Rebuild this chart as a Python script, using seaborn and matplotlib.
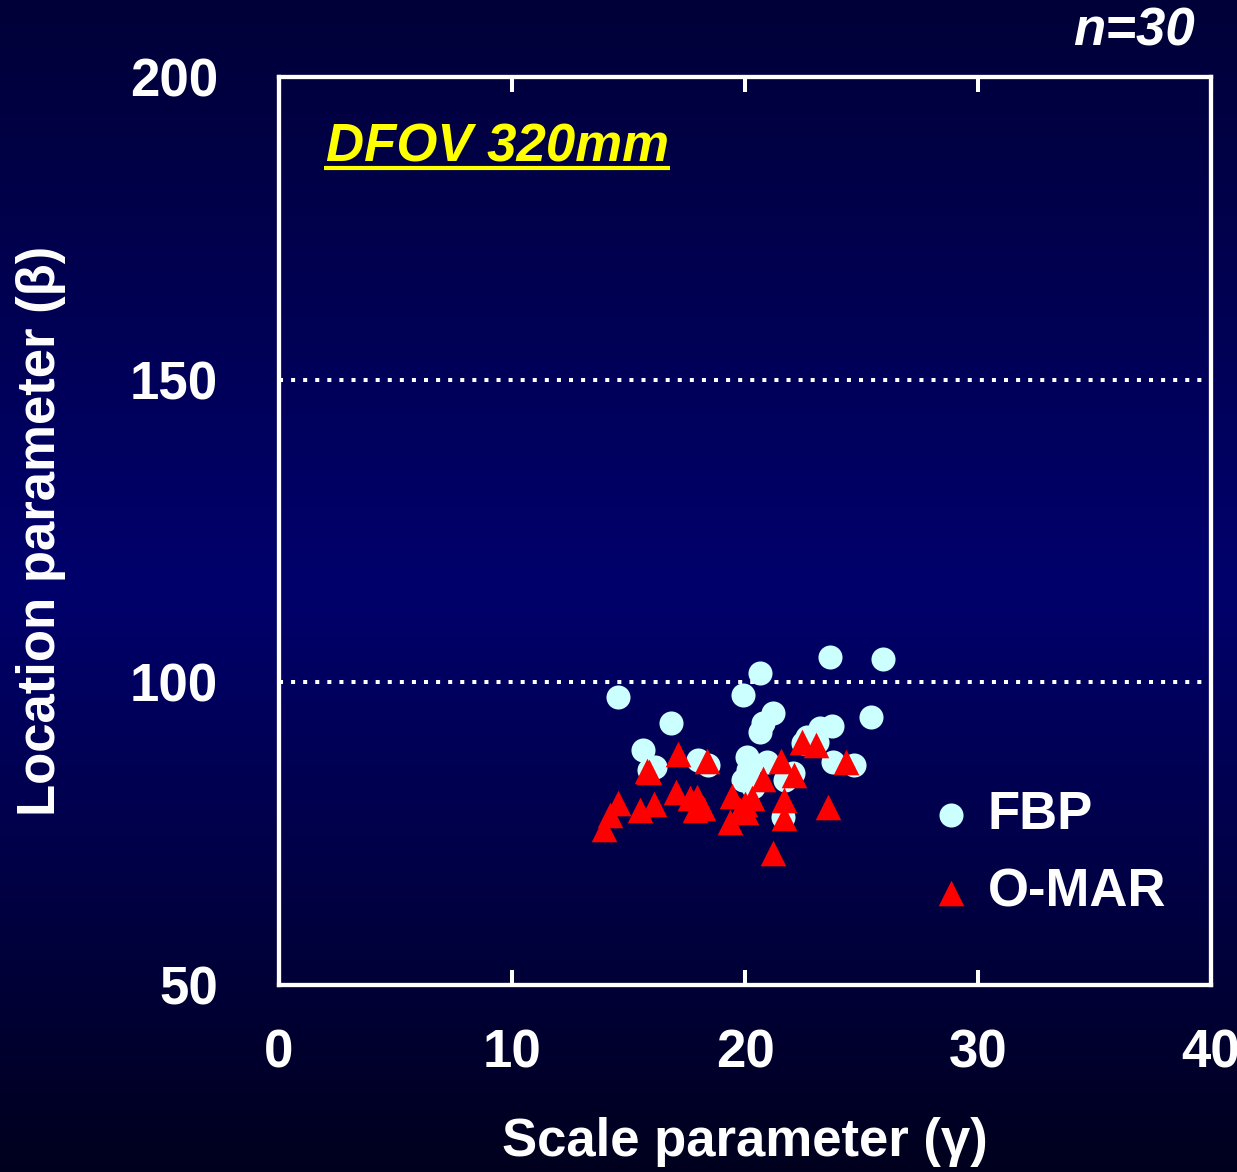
import numpy as np
import pandas as pd
import matplotlib
matplotlib.use("Agg")
import matplotlib.pyplot as plt
import seaborn as sns
from matplotlib.colors import LinearSegmentedColormap

# ---- data ----
fbp_scale = [14.55, 20.64, 23.65, 25.92, 19.91, 21.2, 20.77, 20.64, 16.82, 25.4,
             23.73, 23.2, 22.66, 23.1, 15.62, 16.14, 17.98, 18.41, 20.09, 20.94,
             19.91, 20.13, 22.06, 23.78, 24.68, 21.63, 22.49, 20.34, 21.7, 15.9]
fbp_loc = [97.6, 101.5, 104.2, 103.8, 97.9, 94.9, 93.3, 91.8, 93.3, 94.3,
           92.8, 92.5, 91.0, 90.1, 88.8, 86.0, 87.2, 86.3, 87.7, 86.8,
           83.9, 85.5, 85.0, 86.8, 86.3, 77.7, 90.0, 82.7, 83.9, 85.5]
omar_scale = [17.12, 15.79, 15.88, 18.37, 22.45, 23.05, 21.55, 24.33, 22.1, 20.77,
              17.04, 17.94, 17.64, 18.2, 17.85, 19.44, 20.3, 20.0, 20.04, 21.67,
              21.67, 19.36, 23.56, 21.2, 14.55, 14.21, 13.95, 15.49, 16.09, 19.8]
omar_loc = [88.2, 85.3, 85.2, 87.0, 90.1, 89.6, 87.0, 86.8, 84.7, 84.0,
            81.9, 81.0, 80.9, 79.2, 78.9, 81.2, 80.9, 79.9, 78.6, 80.6,
            77.6, 76.9, 79.4, 71.8, 80.1, 78.1, 75.8, 78.9, 79.9, 78.9]
series_names = ["FBP", "O-MAR"]
x_ticks = [0, 10, 20, 30, 40]
y_ticks = [50, 100, 150, 200]
grid_levels = [100, 150]

fbp_df = pd.DataFrame({"scale": fbp_scale, "loc": fbp_loc})
omar_df = pd.DataFrame({"scale": omar_scale, "loc": omar_loc})

sns.set_theme(style="white")
plt.rcParams["font.family"] = ["Liberation Sans", "DejaVu Sans"]
plt.rcParams["font.weight"] = "bold"

W, H = 1237, 1172
fig = plt.figure(figsize=(W / 100, H / 100), dpi=100)

# background gradient
bg = fig.add_axes([0, 0, 1, 1], zorder=-10)
cmap = LinearSegmentedColormap.from_list(
    "bgc", [(0.0, "#000038"), (0.5, "#00006c"), (1.0, "#00001e")])
grad = np.linspace(0, 1, 256).reshape(-1, 1)
bg.imshow(grad, aspect="auto", cmap=cmap, extent=[0, 1, 1, 0])
bg.set_axis_off()

ax = fig.add_axes([279 / W, 1 - 985 / H, (1211 - 279) / W, (985 - 77) / H])
ax.set_facecolor("none")

sns.scatterplot(data=fbp_df, x="scale", y="loc", ax=ax, marker="o", s=300,
                color="#ccffff", linewidth=0, label=series_names[0], zorder=3)
sns.scatterplot(data=omar_df, x="scale", y="loc", ax=ax, marker="^", s=340,
                color="#ff0000", linewidth=0, label=series_names[1], zorder=4)

ax.set_xlim(0, 40)
ax.set_ylim(50, 200)
ax.set_xticks(x_ticks)
ax.set_yticks(y_ticks)

for g in grid_levels:
    ax.axhline(g, color="white", lw=2.9, linestyle=(0, (1, 2)),
               dash_capstyle="butt", zorder=2)

for sp in ax.spines.values():
    sp.set_color("white")
    sp.set_linewidth(3.1)
    sp.set_visible(True)

ax.tick_params(axis="x", which="both", direction="in", length=11, width=2.9,
               color="white", labelcolor="white", labelsize=38, pad=31,
               top=True, bottom=True)
ax.tick_params(axis="y", direction="in", length=0, labelcolor="white",
               labelsize=38, pad=44, left=True, right=False)
# hide end ticks at 0 and 40
for t in ax.xaxis.get_major_ticks():
    if t.get_loc() in (0, 40):
        t.tick1line.set_visible(False)
        t.tick2line.set_visible(False)
for lab in ax.get_xticklabels() + ax.get_yticklabels():
    lab.set_fontweight("bold")

ax.set_xlabel("Scale parameter (γ)", color="white", fontsize=38,
              fontweight="bold", labelpad=28)
ax.set_ylabel("Location parameter (β)", color="white", fontsize=38,
              fontweight="bold", labelpad=46)

leg = ax.legend(loc="lower right", bbox_to_anchor=(1.003, 0.022), frameon=False,
                prop={"weight": "bold", "size": 38}, labelcolor="white",
                handletextpad=0.1, labelspacing=0.52, handlelength=1.2,
                markerscale=1.0)

ax.text(0.05, 0.922, "DFOV 320mm", transform=ax.transAxes, color="#ffff00",
        fontsize=38, fontweight="bold", fontstyle="italic", va="center",
        ha="left")
# underline
ax.plot([0.048, 0.42], [0.9, 0.9], transform=ax.transAxes,
        color="#ffff00", lw=3, solid_capstyle="butt", clip_on=False)

fig.text(1195 / W, 1 - 32 / H, "n=30", color="white", fontsize=38,
         fontweight="bold", fontstyle="italic", ha="right", va="center")

fig.savefig("out.png", dpi=100)
